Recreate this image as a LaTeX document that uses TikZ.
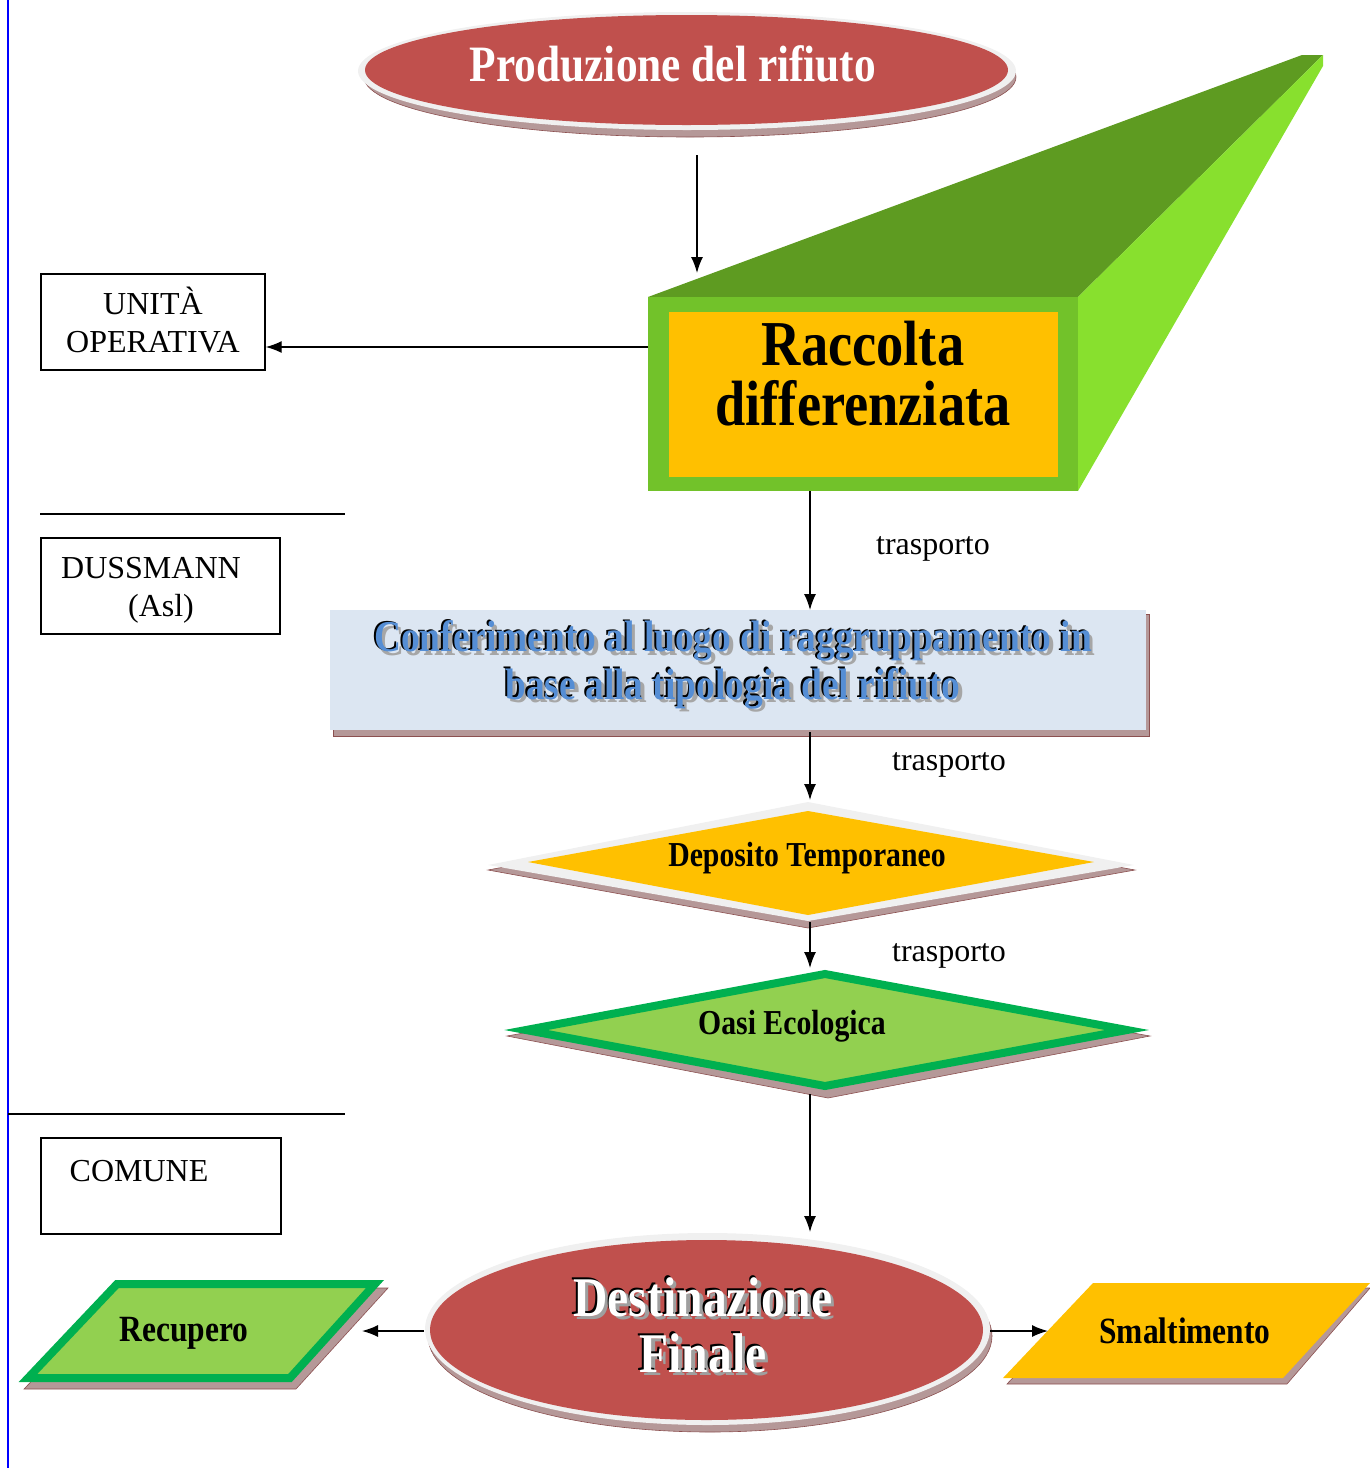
\documentclass[tikz,border=0pt]{standalone}
\usepackage{fontspec}
\setmainfont{Liberation Serif}
\newfontfamily\cnd[FakeStretch=0.85]{Liberation Serif}
\usetikzlibrary{arrows.meta}
\definecolor{redf}{HTML}{C0504D}
\definecolor{rim}{HTML}{F0F0F0}
\definecolor{shd}{HTML}{B59898}
\definecolor{shdl}{HTML}{8C5050}
\definecolor{gtop}{HTML}{5E9B21}
\definecolor{gfront}{HTML}{72C22A}
\definecolor{gside}{HTML}{88E02E}
\definecolor{orng}{HTML}{FFC000}
\definecolor{lblue}{HTML}{DCE6F2}
\definecolor{tblue}{HTML}{558ED5}
\definecolor{gdark}{HTML}{00B050}
\definecolor{glight}{HTML}{92D050}
\definecolor{vblue}{HTML}{0000FF}
% layered (shadowed) text: #1 shadow colour, #2 outline colour, #3 main colour, #4 text
\newcommand{\lyrtext}[4]{%
  \makebox[0pt][l]{\hspace*{1.75pt}\raisebox{-1.75pt}{\textcolor{#1}{#4}}}%
  \makebox[0pt][l]{\hspace*{-0.9pt}\raisebox{0.75pt}{\textcolor{#2}{#4}}}%
  \textcolor{#3}{#4}}
\begin{document}
\begin{tikzpicture}[x=0.5pt,y=-0.5pt,
  conn/.style={-{Latex[length=8pt,width=6pt]}, line width=0.7pt},
  plainbox/.style={draw, line width=0.7pt, inner sep=0, minimum height=48pt},
  plaintxt/.style={font=\fontsize{16}{19}\selectfont, align=center, inner sep=0},
  shadowfill/.style={fill=shd, draw=shdl, line width=0.3pt},
  sepline/.style={line width=0.7pt}]
\useasboundingbox (0,0) rectangle (1370,1468);

% left blue rule
\draw[vblue, line width=1pt] (8,0) -- (8,1468);

% separator lines
\draw[sepline] (40,514) -- (345,514);
\draw[sepline] (8,1114) -- (345,1114);

% ---- Produzione del rifiuto
\path[shadowfill] (690,77) ellipse [x radius=326, y radius=60];
\fill[rim] (687,71) ellipse [x radius=329, y radius=59];
\fill[redf] (686.5,70) ellipse [x radius=321.5, y radius=55];
\node (prod) [inner sep=0, text=white, font=\cnd\bfseries\fontsize{25.5}{30}\selectfont] at (673,64) {Produzione del rifiuto};
\coordinate (p1) at (697,155);
\coordinate (p2) at (697,273);

% ---- Raccolta differenziata (3D box)
\fill[gtop] (648,297) -- (1302,55) -- (1323,55) -- (1078,297) -- cycle;
\fill[gside] (1078,297) -- (1323,55) -- (1323,66) -- (1078,491) -- cycle;
\fill[gfront] (648,297) rectangle (1078,491);
\fill[orng] (669,312) rectangle (1058,477);
\node (racc) [inner sep=0, align=center, font=\cnd\bfseries\fontsize{32}{30}\selectfont] at (863,374) {Raccolta\\differenziata};
\coordinate (rw) at (648,347);
\coordinate (rb) at (810,491);

% ---- UNITÀ OPERATIVA
\node (uo) [plainbox, minimum width=112pt] at (153,322) {};
\node [plaintxt] at (153,320) {UNITÀ\\OPERATIVA};
\draw[conn] (rw) -- (uo.east |- rw);

% ---- DUSSMANN
\node (du) [plainbox, minimum width=119.5pt] at (160.5,586) {};
\node [plaintxt, anchor=base] at (151,578) {DUSSMANN};
\node [plaintxt, anchor=base] at (161,616) {(Asl)};

% ---- COMUNE
\node (co) [plainbox, minimum width=120pt] at (161,1186) {};
\node [plaintxt, anchor=base] at (139,1181) {COMUNE};

% ---- Conferimento
\path[shadowfill] (333,614) rectangle (1149,736);
\fill[lblue] (330,610) rectangle (1146,730);
\coordinate (ct) at (810,610);
\coordinate (cb) at (810,732);
\node (conf) [inner sep=0, align=center, font=\cnd\bfseries\fontsize{22}{22.5}\selectfont] at (733,666)
  {\lyrtext{gray!70}{black}{tblue}{Conferimento al luogo di raggruppamento in}\\
   \lyrtext{gray!70}{black}{tblue}{base alla tipologia del rifiuto}};

% ---- Deposito Temporaneo
\path[shadowfill] (808,810) -- (1135,870) -- (808,928) -- (488,870) -- cycle;
\fill[rim] (808,802) -- (1134,865) -- (808,921) -- (488,865) -- cycle;
\fill[orng] (808,811) -- (1094,862) -- (808,915) -- (528,862) -- cycle;
\node (dep) [inner sep=0, font=\cnd\bfseries\fontsize{17.5}{20}\selectfont] at (807,858) {Deposito Temporaneo};
\coordinate (dt) at (810,800);
\coordinate (db) at (810,922);

% ---- Oasi Ecologica
\path[shadowfill] (828,978) -- (1150,1036) -- (828,1098) -- (507,1036) -- cycle;
\filldraw[fill=glight, draw=gdark, line width=4pt, line join=miter] (825,974) -- (1127,1030) -- (825,1086) -- (526,1030) -- cycle;
\node (oasi) [inner sep=0, font=\cnd\bfseries\fontsize{17.5}{20}\selectfont] at (792,1026) {Oasi Ecologica};
\coordinate (ot) at (810,968);
\coordinate (ob) at (810,1094);

% ---- Destinazione Finale
\path[shadowfill] (710,1336) ellipse [x radius=282, y radius=96];
\fill[rim] (707.5,1329) ellipse [x radius=282.5, y radius=96];
\fill[redf] (706.5,1330) ellipse [x radius=276.5, y radius=90];
\node (dest) [inner sep=0, align=center, font=\cnd\bfseries\fontsize{28}{28}\selectfont] at (703,1326)
  {\lyrtext{gray!75}{black}{white}{Destinazione}\\
   \lyrtext{gray!75}{black}{white}{Finale}};
\coordinate (dtop) at (810,1232);
\coordinate (dl) at (424,1331);
\coordinate (dr) at (990,1331);

% ---- Recupero
\path[shadowfill] (122,1288) -- (388,1288) -- (296,1389) -- (24,1389) -- cycle;
\filldraw[fill=glight, draw=gdark, line width=4pt, line join=miter] (117,1284) -- (375,1284) -- (290,1378) -- (28,1378) -- cycle;
\node (rec) [inner sep=0, font=\cnd\bfseries\fontsize{18.5}{22}\selectfont] at (184,1333) {Recupero};
\coordinate (rr) at (362,1331);

% ---- Smaltimento
\path[shadowfill] (1097,1288) -- (1370,1288) -- (1287,1384) -- (1007,1384) -- cycle;
\fill[orng] (1093,1283) -- (1370,1283) -- (1283,1378) -- (1003,1378) -- cycle;
\node (sma) [inner sep=0, font=\cnd\bfseries\fontsize{18.5}{22}\selectfont] at (1185,1331) {Smaltimento};
\coordinate (sl) at (1048,1331);

% ---- connectors
\draw[conn] (p1) -- (p2);
\draw[conn] (rb) -- (ct);
\draw[conn] (cb) -- (dt);
\draw[conn] (db) -- (ot);
\draw[conn] (ob) -- (dtop);
\draw[conn] (dl) -- (rr);
\draw[conn] (dr) -- (sl);
\node (t1) [plaintxt] at (933,549) {trasporto};
\node (t2) [plaintxt] at (949,765) {trasporto};
\node (t3) [plaintxt] at (949,956) {trasporto};
\end{tikzpicture}
\end{document}
